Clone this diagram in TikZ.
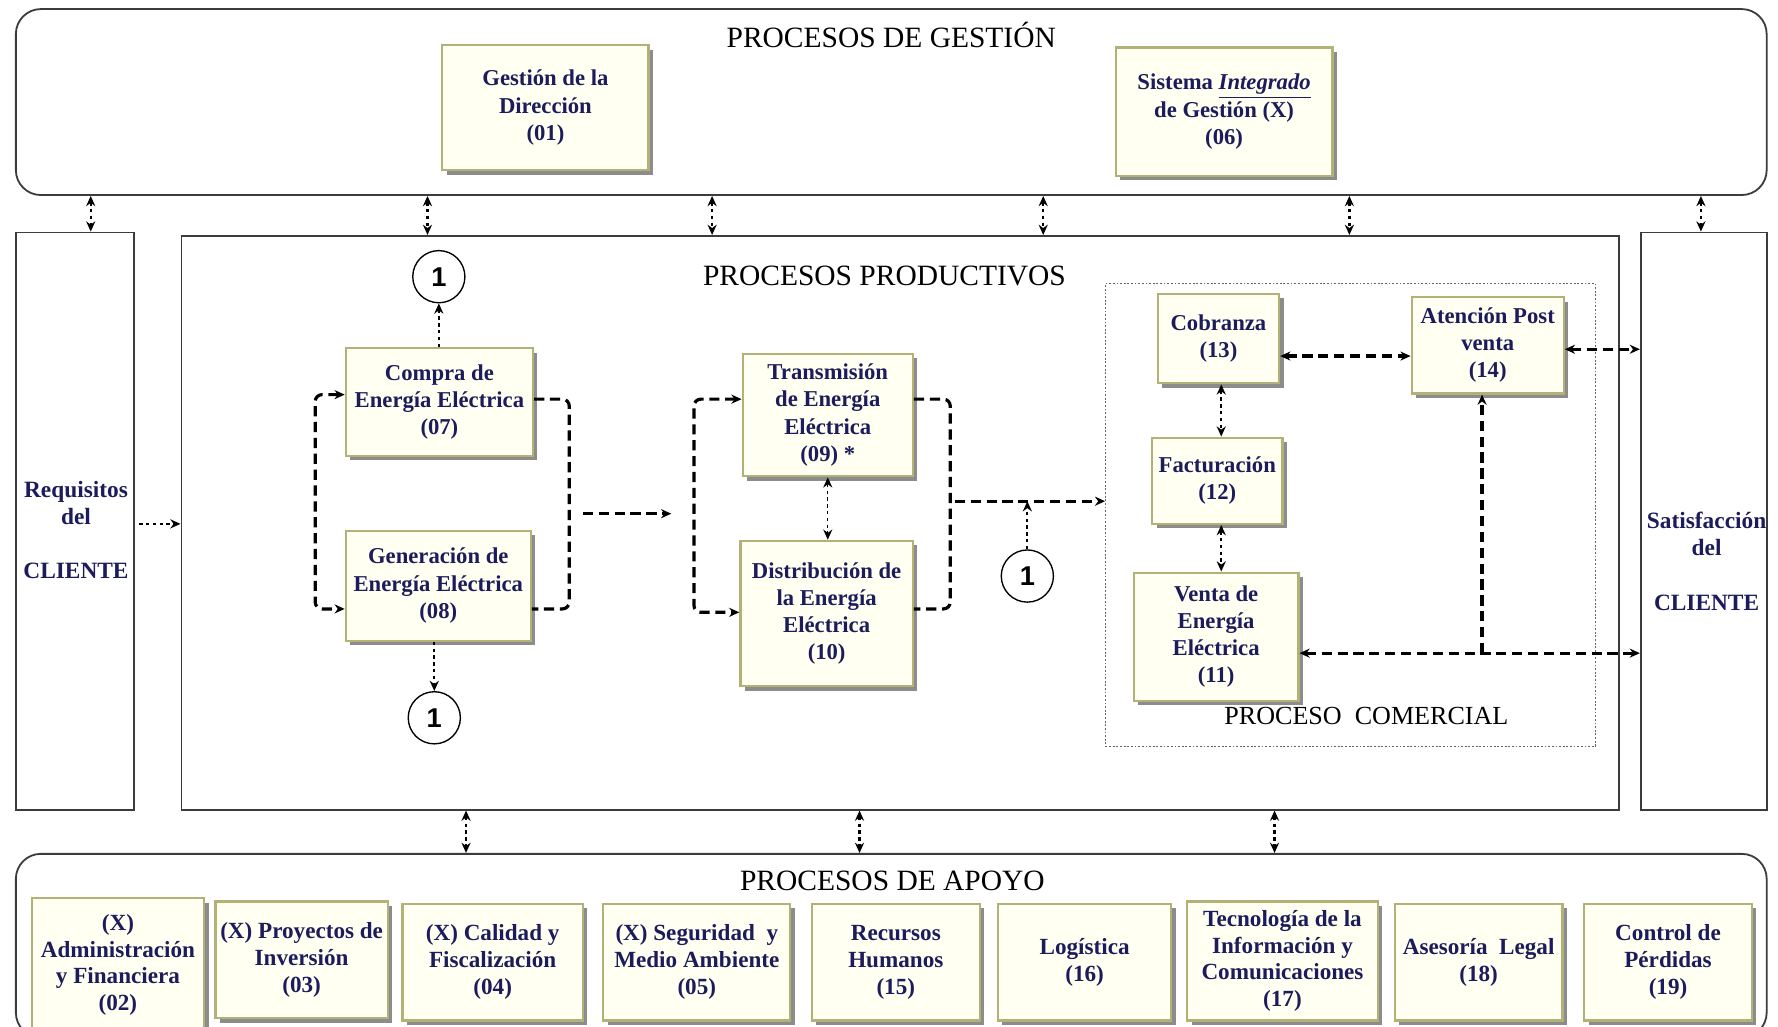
\documentclass[tikz,border=0pt]{standalone}
\usepackage{fontspec}
\setmainfont{Liberation Serif}
\setsansfont{Liberation Sans}
\usetikzlibrary{arrows.meta,shadows,calc}
\definecolor{navy}{RGB}{28,28,92}
\definecolor{boxfill}{RGB}{255,255,242}
\definecolor{boxline}{RGB}{178,178,118}
\definecolor{framec}{RGB}{60,60,60}
\begin{document}
\begin{tikzpicture}[x=0.5pt,y=-0.5pt,
  >={Stealth[length=4.5pt,width=4pt]},
  pbox/.style={draw=boxline, line width=1pt, fill=boxfill, align=center, text=navy,
    font=\bfseries\fontsize{10}{12}\selectfont, inner sep=0pt,
    drop shadow={shadow xshift=2pt, shadow yshift=-2pt, fill=black!45, opacity=1}},
  abox/.style={pbox, font=\bfseries\fontsize{10.2}{11.8}\selectfont},
  framebox/.style={draw=framec, line width=0.8pt, inner sep=0pt},
  titletext/.style={font=\fontsize{13}{15}\selectfont, inner sep=0pt, anchor=base},
  sidetext/.style={align=center, text=navy, font=\bfseries\fontsize{10.3}{12}\selectfont, inner sep=0pt},
  conn/.style={circle, draw=black, line width=0.6pt, fill=white, minimum size=23pt, inner sep=0pt,
    font=\sffamily\bfseries\fontsize{12}{12}\selectfont},
  dashc/.style={line width=1.4pt, dash pattern=on 4.5pt off 2.5pt},
  dotc/.style={line width=1pt, dash pattern=on 1.5pt off 1.5pt},
  thindot/.style={line width=0.6pt, dash pattern=on 1.5pt off 1.5pt}
]
\useasboundingbox (0,0) rectangle (1568,905);
\fill[white] (0,0) rectangle (1568,905);
\clip (0,0) rectangle (1568,905);

% containers
\node[framebox, rounded corners=11pt, minimum width=772pt, minimum height=82pt] (top) at (786,90) {};
\node[framebox, rounded corners=11pt, minimum width=772pt, minimum height=81pt] (apo) at (786,834) {};
\node[framebox, minimum width=52pt, minimum height=254.5pt] (rq) at (66,459.5) {};
\node[framebox, minimum width=634pt, minimum height=253pt] (pp) at (794,461) {};
\node[framebox, minimum width=55.5pt, minimum height=254.5pt] (sat) at (1502.5,459.5) {};
\node[draw=black!60, line width=0.4pt, dash pattern=on 0.8pt off 0.8pt, inner sep=0pt,
      minimum width=216pt, minimum height=204pt] (pc) at (1191,454) {};

% titles
\node[titletext] (tg) at (786,42) {PROCESOS DE GESTIÓN};
\node[titletext] (tp) at (780,252) {PROCESOS PRODUCTIVOS};
\node[titletext] (ta) at (787,785) {PROCESOS DE APOYO};
\node[titletext, font=\fontsize{11.5}{13}\selectfont] (tc) at (1205,639) {PROCESO\ \ COMERCIAL};

\node[sidetext] (rqt) at (67,467.5) {Requisitos\\del\\[12pt]CLIENTE};
\node[sidetext] (satt) at (1505,495) {Satisfacción\\del\\[12pt]CLIENTE};

% management boxes
\node[pbox, minimum width=91pt, minimum height=55pt] (gd) at (481,95) {Gestión de la\\Dirección\\(01)};
\node[pbox, minimum width=95.5pt, minimum height=56.5pt] (sig) at (1079.5,98.5) {Sistema \underline{\textit{Integrado}}\\de Gestión (X)\\(06)};

% productive boxes
\node[pbox, minimum width=82.5pt, minimum height=47.5pt] (c07) at (387.5,354.5) {Compra de\\Energía Eléctrica\\(07)};
\node[pbox, minimum width=81.5pt, minimum height=48.5pt] (g08) at (386.5,516.5) {Generación de\\Energía Eléctrica\\(08)};
\node[pbox, minimum width=75pt, minimum height=54pt] (t09) at (730,366) {Transmisión\\de Energía\\Eléctrica\\(09)~*};
\node[pbox, minimum width=76pt, minimum height=64pt] (d10) at (729,541) {Distribución de\\la Energía\\Eléctrica\\(10)};
\node[pbox, minimum width=53.5pt, minimum height=39.5pt] (c13) at (1074.5,298.5) {Cobranza\\(13)};
\node[pbox, minimum width=67pt, minimum height=42.5pt] (a14) at (1312,304.5) {Atención Post\\venta\\(14)};
\node[pbox, minimum width=57.5pt, minimum height=38pt] (f12) at (1073.5,424) {Facturación\\(12)};
\node[pbox, minimum width=72.5pt, minimum height=56.5pt] (v11) at (1072.5,561.5) {Venta de\\Energía\\Eléctrica\\(11)};

% connectors "1"
\node[conn] (o1) at (387,244) {1};
\node[conn] (o2) at (383,633) {1};
\node[conn] (o3) at (906,508) {1};

% support boxes
\node[abox, minimum width=76pt, minimum height=59pt] (b02) at (104,851) {(X)\\Administración\\y Financiera\\(02)};
\node[abox, minimum width=76pt, minimum height=51.5pt] (b03) at (266,846.5) {(X) Proyectos de\\Inversión\\(03)};
\node[abox, minimum width=79.5pt, minimum height=51.5pt] (b04) at (434.5,848.5) {(X) Calidad y\\Fiscalización\\(04)};
\node[abox, minimum width=82.5pt, minimum height=51.5pt] (b05) at (614.5,848.5) {(X) Seguridad\ \ y\\Medio Ambiente\\(05)};
\node[abox, minimum width=74pt, minimum height=51.5pt] (b15) at (790,848.5) {Recursos\\Humanos\\(15)};
\node[abox, minimum width=76.5pt, minimum height=51.5pt] (b16) at (956.5,848.5) {Logística\\(16)};
\node[abox, minimum width=84pt, minimum height=52.5pt] (b17) at (1131,847.5) {Tecnología de la\\Información y\\Comunicaciones\\(17)};
\node[abox, minimum width=74pt, minimum height=51.5pt] (b18) at (1304,848.5) {Asesoría\ \ Legal\\(18)};
\node[abox, minimum width=74pt, minimum height=51.5pt] (b19) at (1471,848.5) {Control de\\Pérdidas\\(19)};

% vertical links management <-> middle
\coordinate (v1) at (80,0);
\coordinate (v2) at (377,0);
\coordinate (v3) at (628,0);
\coordinate (v4) at (920,0);
\coordinate (v5) at (1190,0);
\coordinate (v6) at (1500,0);
\draw[dotc,<->] (v1 |- top.south) -- (v1 |- rq.north);
\draw[dotc,<->] (v2 |- top.south) -- (v2 |- pp.north);
\draw[dotc,<->] (v3 |- top.south) -- (v3 |- pp.north);
\draw[dotc,<->] (v4 |- top.south) -- (v4 |- pp.north);
\draw[dotc,<->] (v5 |- top.south) -- (v5 |- pp.north);
\draw[dotc,<->] (v6 |- top.south) -- (v6 |- sat.north);

% vertical links middle <-> support
\coordinate (w1) at (411,0);
\coordinate (w2) at (758,0);
\coordinate (w3) at (1124,0);
\draw[dotc,<->] (w1 |- pp.south) -- (w1 |- apo.north);
\draw[dotc,<->] (w2 |- pp.south) -- (w2 |- apo.north);
\draw[dotc,<->] (w3 |- pp.south) -- (w3 |- apo.north);

% requisitos -> productive
\draw[dotc,->,shorten <=2pt] (rq.east |- 0,462) -- (pp.west |- 0,462);

% compra / generacion
\draw[dotc,->] (c07.north -| o1) -- (o1.south);
\draw[dotc,->] (g08.south -| o2) -- (o2.north);
\draw[dashc,<->,rounded corners=3pt] (c07.west |- 0,348) -- (278,348) -- (278,537) -- (g08.west |- 0,537);
\draw[dashc,rounded corners=3pt] (c07.east |- 0,352) -- (502,352) -- (502,537) -- (g08.east |- 0,537);
\coordinate (j1) at (502,453);
\coordinate (j2) at (612,453);
\draw[dashc,->,shorten <=6pt,shorten >=10pt] (j1) -- (j2);

% transmision / distribucion
\draw[dashc,<->,rounded corners=3pt] (t09.west |- 0,352) -- (612,352) -- (612,540) -- (d10.west |- 0,540);
\draw[thindot,<->] (t09.south) -- (t09.south |- d10.north);
\draw[dashc,rounded corners=3pt] (t09.east |- 0,352) -- (838,352) -- (838,537) -- (d10.east |- 0,537);
\coordinate (j3) at (838,442);
\draw[dashc,->,shorten <=2pt] (j3) -- (pc.west |- j3);
\draw[dotc,->] (o3.north) -- (o3.north |- j3);

% comercial
\draw[dashc,<->] (c13.east |- 0,314) -- (a14.west |- 0,314);
\draw[dashc,<->] (a14.east |- 0,308) -- (sat.west |- 0,308);
\draw[dotc,<->] (c13.south -| 1077,0) -- (f12.north -| 1077,0);
\draw[dotc,<->] (f12.south -| 1077,0) -- (v11.north -| 1077,0);
\draw[dashc,<->] (v11.east |- 0,576) -- (sat.west |- 0,576);
\coordinate (j4) at (1307,576);
\draw[dashc,->] (j4) -- (a14.south -| j4);
\end{tikzpicture}
\end{document}
